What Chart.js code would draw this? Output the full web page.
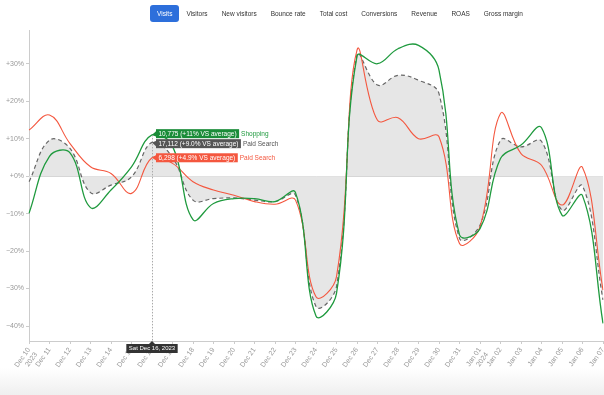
<!DOCTYPE html>
<html><head><meta charset="utf-8">
<script src="https://cdn.jsdelivr.net/npm/chart.js@4.4.0/dist/chart.umd.min.js"></script>
<style>
html,body{margin:0;padding:0;background:#fff;width:604px;height:395px;overflow:hidden;font-family:"Liberation Sans",Arial,sans-serif;}
#bar{position:absolute;left:150px;top:5px;display:flex;z-index:2;}
#bar span{display:block;height:17px;line-height:17px;padding:0 7px;font-size:6.5px;color:#333;border-radius:3px;white-space:nowrap;}
#bar span.active{background:#2d6fdb;color:#fff;}
#shade{position:absolute;left:0;top:368px;width:604px;height:27px;background:linear-gradient(#fff,#efefef);z-index:0;}
#wrap{position:absolute;left:0;top:0;width:604px;height:395px;z-index:1;}
</style></head>
<body>
<div id="shade"></div>
<div id="bar"></div>
<div id="wrap"><canvas id="c" width="604" height="395"></canvas></div>
<script>
const metrics = ['Visits','Visitors','New visitors','Bounce rate','Total cost','Conversions','Revenue','ROAS','Gross margin'];
const labels = [['Dec 10','2023'],'Dec 11','Dec 12','Dec 13','Dec 14','Dec 15','Dec 16','Dec 17','Dec 18','Dec 19','Dec 20','Dec 21','Dec 22','Dec 23','Dec 24','Dec 25','Dec 26','Dec 27','Dec 28','Dec 29','Dec 30','Dec 31',['Jan 01','2024'],'Jan 02','Jan 03','Jan 04','Jan 05','Jan 06','Jan 07'];
const seriesNames = ['Shopping','Paid Search','Paid Search'];
const shopping = [-9.9, 5.3, 6.2, -8.4, -3.7, 2.5, 11, 8, -11.6, -7.3, -6, -6, -6.8, -4.4, -37.3, -31.3, 32, 30, 34, 34.9, 28.3, -15.7, -14, 4.7, 8.3, 12.9, -10.4, -5.2, -39.3];
const paidSearchTotal = [-1.5, 9.6, 7.4, -4.4, -2.4, -0.2, 9.0, 5, -6.4, -6, -5.8, -6.4, -6.8, -5.1, -34.8, -29.5, 32.3, 24.3, 26.9, 25.6, 22, -16.6, -13.1, 9.6, 7.8, 9.3, -9.1, -2.6, -33];
const paidSearch = [12.3, 16.3, 8.7, 2.5, 0.7, -4.6, 4.9, 3.4, -1.5, -3.7, -5.1, -6.8, -7.5, -6.4, -32.2, -26.8, 33.6, 14.9, 15.6, 10, 10.5, -18, -13.5, 16.7, 6, 2.9, -7.7, 2.3, -30.4];
const hoverIndex = 6;
const hoverDate = 'Sat Dec 16, 2023';
const hoverCounts = ['10,775','17,112','6,298'];
const hoverPct = ['+11%','+9.0%','+4.9%'];

const bar = document.getElementById('bar');
metrics.forEach((m,i)=>{const s=document.createElement('span');s.textContent=m;if(i===0)s.className='active';bar.appendChild(s);});

const colors = ['#1f9a3e','#555555','#f4573f'];
const boxColors = ['#1a8c38','#555555','#f4573f'];
const FONT = '"Liberation Sans", Arial, sans-serif';

const hoverPlugin = {
  id:'hover',
  afterDatasetsDraw(chart){
    const ctx = chart.ctx, xs = chart.scales.x, ys = chart.scales.y, ca = chart.chartArea;
    const x = xs.getPixelForValue(hoverIndex);
    const vals = [shopping[hoverIndex], paidSearchTotal[hoverIndex], paidSearch[hoverIndex]];
    const ptsY = vals.map(v=>ys.getPixelForValue(v));
    // vertical dotted line
    ctx.save();
    ctx.strokeStyle = '#aaa'; ctx.lineWidth = 1; ctx.setLineDash([1.5,1.5]);
    ctx.beginPath(); ctx.moveTo(Math.round(x)+0.5, Math.min(...ptsY)); ctx.lineTo(Math.round(x)+0.5, ca.bottom); ctx.stroke();
    ctx.restore();
    // spread boxes
    const H = 9, gap = 10;
    const order = [0,1,2].sort((a,b)=>ptsY[a]-ptsY[b]);
    const cy = ptsY.slice();
    for (let k=1;k<order.length;k++){
      const a=order[k-1], b=order[k];
      if (cy[b]-cy[a] < gap){ const m=(cy[a]+cy[b])/2; cy[a]=m-gap/2; cy[b]=m+gap/2; }
    }
    ctx.save();
    ctx.font = '6.5px ' + FONT;
    ctx.textBaseline = 'middle';
    for (let i=0;i<3;i++){
      const txt = hoverCounts[i] + ' (' + hoverPct[i] + ' VS average)';
      const w = ctx.measureText(txt).width + 5;
      const bx = x + 4, by = cy[i] - H/2;
      ctx.fillStyle = boxColors[i];
      ctx.fillRect(bx, by, w, H);
      ctx.beginPath(); ctx.moveTo(x, ptsY[i]); ctx.lineTo(bx+0.5, cy[i]-3); ctx.lineTo(bx+0.5, cy[i]+3); ctx.closePath(); ctx.fill();
      ctx.fillStyle = '#fff';
      ctx.textAlign = 'left';
      ctx.fillText(txt, bx+2.5, cy[i]+0.5);
      ctx.fillStyle = colors[i];
      ctx.fillText(seriesNames[i], bx + w + 2, cy[i]+0.5);
    }
    // date box on x axis
    ctx.font = '6px ' + FONT;
    const dw = ctx.measureText(hoverDate).width + 5;
    const dy = ca.bottom + 3;
    ctx.fillStyle = '#333';
    ctx.beginPath(); ctx.moveTo(x, ca.bottom); ctx.lineTo(x-3, dy); ctx.lineTo(x+3, dy); ctx.closePath(); ctx.fill();
    ctx.fillRect(x - dw/2, dy, dw, 9);
    ctx.fillStyle = '#fff'; ctx.textAlign = 'center';
    ctx.fillText(hoverDate, x, dy + 4.8);
    ctx.restore();
  }
};

new Chart(document.getElementById('c'), {
  type:'line',
  data:{
    labels: labels,
    datasets:[
      {label:seriesNames[0], data:shopping, borderColor:colors[0], borderWidth:1.3, tension:0.4, fill:false, pointRadius:0, order:1},
      {label:seriesNames[2], data:paidSearch, borderColor:colors[2], borderWidth:1.1, tension:0.4, fill:false, pointRadius:0, order:2},
      {label:seriesNames[1], data:paidSearchTotal, borderColor:'#666', borderWidth:1.2, borderDash:[4,3], backgroundColor:'#e6e6e6', tension:0.4, fill:'origin', pointRadius:0, order:3}
    ]
  },
  options:{
    responsive:false, animation:false, devicePixelRatio:1,
    layout:{padding:{top:30,right:1,left:0,bottom:0}},
    plugins:{legend:{display:false}, tooltip:{enabled:false}},
    scales:{
      x:{
        grid:{drawOnChartArea:false, tickColor:'#ccc', tickLength:3},
        border:{color:'#ccc'},
        ticks:{autoSkip:false, minRotation:55, maxRotation:55, color:'#999', padding:2, font:{size:7, family:FONT}},
        afterFit(s){ s.height = 54; s.paddingLeft = 0; s.paddingRight = 0; }
      },
      y:{
        min:-44, max:39,
        grid:{color:(c)=> (c.tick && c.tick.value===0) ? '#d0d0d0' : 'rgba(0,0,0,0)', tickColor:'#ccc', tickLength:3},
        border:{color:'#ccc'},
        ticks:{stepSize:10, includeBounds:false, color:'#999', padding:2, font:{size:7, family:FONT},
          callback:(v)=> (v>=0?'+':'\u2212') + Math.abs(v) + '%'},
        afterFit(s){ s.width = 29; }
      }
    }
  },
  plugins:[hoverPlugin]
});
</script>
</body></html>
